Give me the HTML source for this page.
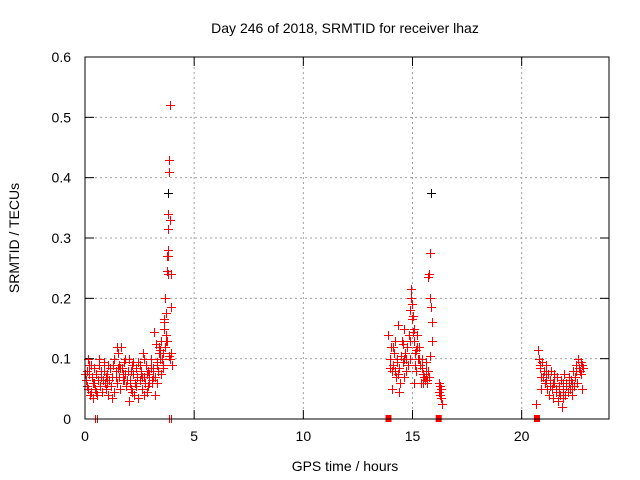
<!DOCTYPE html>
<html><head><meta charset="utf-8"><style>
body{margin:0;background:#fff}
svg{display:block;font-family:"Liberation Sans",sans-serif}
</style></head><body>
<svg id="chart" width="640" height="480" xmlns="http://www.w3.org/2000/svg">
<rect width="640" height="480" fill="#fff"/>
<g id="grid"></g>
<g id="ticks"></g>
<g id="marks"></g>
<rect x="85" y="57" width="524" height="362" fill="none" stroke="#000" stroke-width="1"/>
<text x="345" y="33" font-size="14" text-anchor="middle">Day 246 of 2018, SRMTID for receiver lhaz</text>
<text x="345" y="471" font-size="14" text-anchor="middle">GPS time / hours</text>
<text transform="translate(19,238) rotate(-90)" font-size="14" text-anchor="middle">SRMTID / TECUs</text>
</svg>
<script>
const xTicks=[0,5,10,15,20];
const yTicks=[0,0.1,0.2,0.3,0.4,0.5,0.6];
const yTickLabels=["0","0.1","0.2","0.3","0.4","0.5","0.6"];
const redT1=[0.05,0.1,0.15,0.2,0.25,0.3,0.35,0.4,0.45,0.5,0.55,0.6,0.65,0.7,0.75,0.8,0.85,0.9,0.95,1.0,1.05,1.1,1.15,1.2,1.25,1.3,1.35,1.4,1.45,1.5,1.55,1.6,1.65,1.7,1.75,1.8,1.85,1.9,1.95,2.0,2.05,2.1,2.15,2.2,2.25,2.3,2.35,2.4,2.45,2.5,2.55,2.6,2.65,2.7,2.75,2.8,2.85,2.9,2.95,3.0,3.05,3.1,3.15,3.2,3.25,3.3,3.35,3.4,3.45,3.5,3.55,3.6,3.62,3.65,3.68,3.7,3.72,3.74,3.76,3.78,3.8,3.82,3.84,3.86,3.88,3.9,3.92,3.94,3.96,3.98,3.75,3.85,
0.12,0.38,0.62,1.22,1.62,2.02,2.42,2.82,3.22,0.28,0.88,1.48,2.08,2.68,3.28,3.58,3.48,
0.07,0.17,0.27,0.42,0.52,0.72,0.82,0.97,1.07,1.17,1.32,1.42,1.57,1.72,1.82,1.92,2.12,2.22,2.32,2.52,2.62,2.72,2.92,3.02,3.12,3.32,3.42,3.52,3.64,3.7,3.78,3.82,3.9,0.02,0.47,1.02,1.52,1.77,2.17,2.57,2.87,3.07,3.37,3.57];
const redV1=[.065,.08,.05,.09,.04,.07,.06,.085,.05,.075,.04,.065,.09,.055,.07,.045,.08,.06,.05,.075,.04,.065,.085,.055,.07,.09,.045,.08,.06,.11,.07,.05,.12,.085,.065,.095,.075,.055,.08,.1,.065,.05,.09,.075,.04,.06,.085,.07,.035,.065,.08,.05,.11,.07,.06,.09,.045,.08,.075,.1,.06,.085,.145,.07,.125,.095,.08,.11,.1,.13,.09,.16,.15,.12,.2,.175,.14,.245,.27,.28,.315,.34,.41,.43,.52,.33,.24,.185,.11,.09,.13,.105,
.1,.035,.1,.035,.085,.03,.095,.075,.04,.045,.095,.12,.06,.04,.06,.085,.075,
.055,.075,.09,.06,.045,.08,.065,.07,.09,.055,.1,.07,.09,.075,.1,.065,.08,.095,.055,.09,.07,.1,.06,.085,.07,.09,.115,.1,.165,.13,.24,.27,.1,.075,.05,.06,.085,.065,.045,.075,.055,.065,.12,.11];
const redT2=[13.9,13.95,14.0,14.05,14.1,14.15,14.2,14.25,14.3,14.35,14.4,14.45,14.5,14.55,14.6,14.65,14.7,14.75,14.8,14.85,14.9,14.92,14.95,14.98,15.0,15.02,15.05,15.1,15.15,15.2,15.25,15.3,15.35,15.4,15.45,15.5,15.55,15.6,15.65,15.7,15.72,15.75,15.8,15.82,15.85,15.88,15.9,16.2,16.25,16.3,16.35,16.28,14.08,14.4,14.6,14.9,15.1,15.5,14.2,14.7,15.2,15.8,15.05,15.6,
13.98,14.12,14.28,14.48,14.58,14.78,14.88,15.08,15.18,15.28,15.42,15.52,15.62,15.68,15.74,16.22,16.3,14.32,14.62,14.96];
const redV2=[.14,.1,.12,.08,.09,.11,.13,.07,.1,.155,.085,.06,.13,.095,.15,.11,.08,.12,.09,.14,.18,.215,.2,.165,.17,.145,.13,.11,.08,.14,.1,.12,.09,.06,.1,.075,.065,.07,.06,.08,.235,.24,.275,.2,.185,.16,.13,.06,.04,.05,.025,.055,.05,.045,.07,.1,.09,.06,.08,.1,.12,.105,.06,.095,
.085,.12,.095,.105,.125,.09,.13,.15,.115,.1,.085,.07,.08,.065,.07,.045,.035,.075,.1,.19];
const redT3=[20.75,20.8,20.85,20.9,20.95,21.0,21.05,21.1,21.15,21.2,21.25,21.3,21.35,21.4,21.45,21.5,21.55,21.6,21.65,21.7,21.75,21.8,21.85,21.9,21.95,22.0,22.05,22.1,22.15,22.2,22.25,22.3,22.35,22.4,22.45,22.5,22.55,22.6,22.65,22.7,22.75,22.8,20.65,21.1,21.5,21.9,22.3,22.7,20.9,
20.82,20.98,21.12,21.28,21.42,21.58,21.72,21.88,22.02,22.18,22.32,22.48,22.62,22.78];
const redV3=[.115,.1,.085,.07,.095,.08,.06,.09,.05,.075,.04,.065,.08,.05,.035,.06,.045,.07,.03,.055,.04,.065,.02,.05,.075,.04,.06,.045,.07,.05,.065,.04,.08,.055,.07,.09,.06,.1,.08,.095,.05,.085,.025,.065,.075,.035,.06,.075,.05,
.09,.07,.075,.055,.06,.05,.045,.06,.055,.06,.05,.08,.085,.09];
const blackT=[3.15,3.8,15.85];
const blackV=[.145,.375,.375];
const zeroCrossT=[0.5,3.9];
const zeroSquareT=[13.9,16.2,20.7];
const NS='http://www.w3.org/2000/svg';
const X=t=>85+t*(524/24);
const Y=v=>419-v*(362/0.6);
function mk(tag,a,parent){const e=document.createElementNS(NS,tag);for(const k in a)e.setAttribute(k,a[k]);parent.appendChild(e);return e;}
const grid=document.getElementById('grid'),ticks=document.getElementById('ticks'),marks=document.getElementById('marks');
xTicks.forEach(t=>{const x=X(t);
 if(t>0){const g=mk('line',{x1:x,x2:x,y1:57,y2:419,stroke:'#a0a0a0','stroke-dasharray':'2,3'},grid);
 
 }
 mk('line',{x1:x,x2:x,y1:419,y2:410,stroke:'#000'},ticks);
 mk('line',{x1:x,x2:x,y1:57,y2:66,stroke:'#000'},ticks);
 const l=mk('text',{x:x,y:441,'font-size':14,'text-anchor':'middle'},ticks);l.textContent=t;
 
 });
yTicks.forEach((v,i)=>{const y=Y(v);
 if(v>0&&v<0.6){const g=mk('line',{x1:85,x2:609,y1:y,y2:y,stroke:'#a0a0a0','stroke-dasharray':'2,3'},grid);
 
 }
 mk('line',{x1:85,x2:94,y1:y,y2:y,stroke:'#000'},ticks);
 mk('line',{x1:600,x2:609,y1:y,y2:y,stroke:'#000'},ticks);
 const l=mk('text',{x:71,y:y+5,'font-size':14,'text-anchor':'end'},ticks);l.textContent=yTickLabels[i];
 
 });
function plus(t,v,c){const x=Math.round(X(t))+0.5,y=Math.round(Y(v))+0.5;
 const p=mk('path',{d:`M${x-4.5},${y}H${x+4.5}M${x},${y-4.5}V${y+4.5}`,stroke:c,'stroke-width':1,fill:'none'},marks);
 
 }
blackT.forEach((t,i)=>plus(t,blackV[i],'#000'));
redT1.forEach((t,i)=>plus(t,redV1[i],'#f00'));
redT2.forEach((t,i)=>plus(t,redV2[i],'#f00'));
redT3.forEach((t,i)=>plus(t,redV3[i],'#f00'));
zeroCrossT.forEach(t=>{const x=Math.round(X(t));
 const p=mk('path',{d:`M${x-0.5},415V423M${x+1.5},415V423`,stroke:'#f00'},marks);
 
 });
zeroSquareT.forEach(t=>{const r=mk('rect',{x:X(t)-3,y:415,width:6,height:7,fill:'#f00'},marks);
 
 });
</script>
</body></html>
